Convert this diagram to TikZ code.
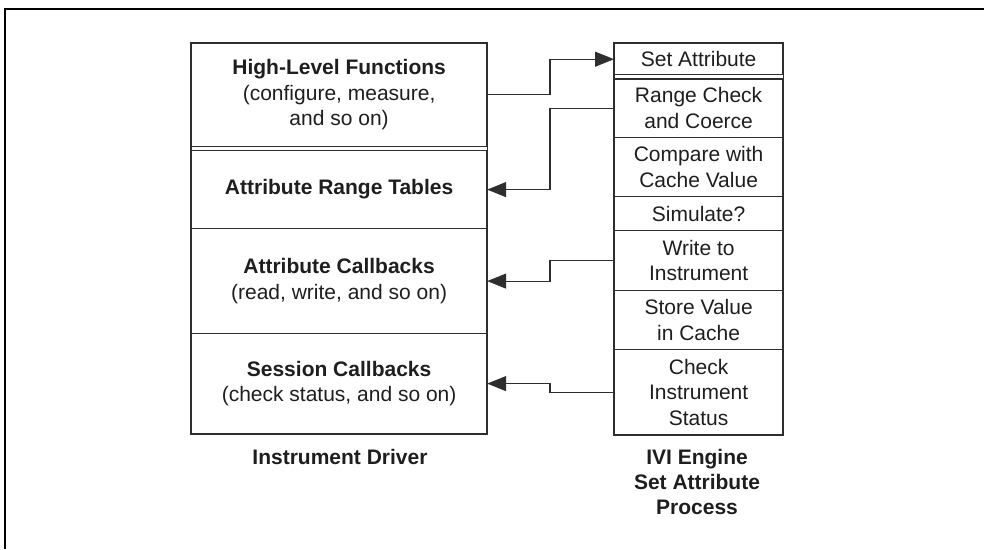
\documentclass[tikz,border=0pt]{standalone}
\usepackage{fontspec}
\setmainfont{Liberation Sans}
\usetikzlibrary{arrows.meta}
\definecolor{ln}{HTML}{2E2E2E}
\definecolor{tx}{HTML}{1E1E1E}
\begin{document}
\begin{tikzpicture}[x=1pt,y=-1pt,
  seg/.style={draw=ln, line width=1.2pt, inner sep=0pt, align=center, text=tx,
    font=\fontsize{21}{25.5}\selectfont, anchor=north west},
  lseg/.style={seg, minimum width=295pt},
  rseg/.style={seg, minimum width=168pt},
  lbl/.style={inner sep=0pt, align=center, text=tx, font=\fontsize{21}{25}\selectfont\bfseries},
  conn/.style={draw=ln, line width=1.2pt},
  tip/.style={-{Triangle[length=19pt,width=15pt]}}]
\useasboundingbox (0,0) rectangle (984,549);
\draw[line width=2pt] (5,549) -- (5,9) -- (984,9);

% Instrument driver column
\node[lseg, minimum height=102.5pt] (hl) at (191,43)
  {{\bfseries High-Level Functions}\\(configure, measure,\\and so on)};
\node[lseg, minimum height=78pt] (art) at (191,150)
  {\bfseries Attribute Range Tables};
\node[lseg, minimum height=105pt] (ac) at (191,228)
  {{\bfseries Attribute Callbacks}\\(read, write, and so on)};
\node[lseg, minimum height=100pt] (sc) at (191,333)
  {{\bfseries Session Callbacks}\\(check status, and so on)};
\draw[ln, line width=1.2pt] (hl.north west) rectangle (sc.south east);

% IVI engine column
\node[rseg, minimum height=31.2pt] (sa) at (614,43) {Set Attribute};
\node[rseg, minimum height=58.2pt] (rc) at (614,78.4) {Range Check\\and Coerce};
\node[rseg, minimum height=59.4pt] (cmp) at (614,136.6) {Compare with\\Cache Value};
\node[rseg, minimum height=34pt] (sim) at (614,196) {Simulate?};
\node[rseg, minimum height=59.6pt] (wr) at (614,230) {Write to\\Instrument};
\node[rseg, minimum height=59.4pt] (st) at (614,289.6) {Store Value\\in Cache};
\node[rseg, minimum height=85pt] (chk) at (614,349) {Check\\Instrument\\Status};
\draw[ln, line width=1.2pt] (sa.north west) rectangle (chk.south east);

% captions
\node[lbl] (cap1) at (340,457) {Instrument Driver};
\node[lbl] (cap2) at (697,482) {IVI Engine\\Set Attribute\\Process};

% connectors
\coordinate (bx) at (550,0);
\draw[conn, tip] (hl.east) -| (bx |- sa.west) -- (sa.west);
\draw[conn, tip] (rc.west) -| (bx |- art.east) -- (art.east);
\draw[conn, tip] (wr.west) -| (bx |- ac.east) -- (ac.east);
\draw[conn, tip] (chk.west) -| (bx |- sc.east) -- (sc.east);
\end{tikzpicture}
\end{document}
